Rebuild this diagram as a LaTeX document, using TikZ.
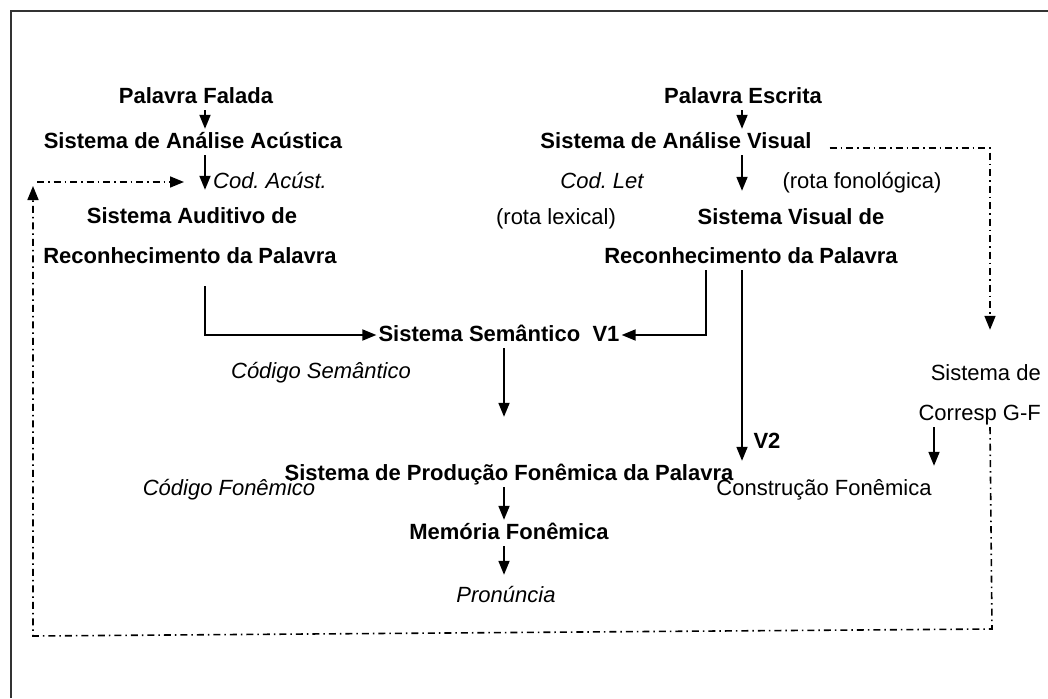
\documentclass[tikz,border=0pt]{standalone}
\usepackage{fontspec}
\setmainfont{Liberation Sans}
\usetikzlibrary{arrows.meta}
\frenchspacing

\begin{document}
\begin{tikzpicture}[x=1pt,y=-1pt,
    txt/.style={anchor=base,inner xsep=2pt,inner ysep=3pt,text height=16pt,text depth=4pt,
        font=\fontsize{22}{26}\selectfont},
    bold/.style={txt,font=\fontsize{22}{26}\selectfont\bfseries},
    ital/.style={txt,font=\fontsize{22}{26}\selectfont\itshape},
    arr/.style={line width=1.8pt,-{Triangle[length=14pt,width=11pt]}},
    dashdot/.style={line width=1.6pt,dash pattern=on 7pt off 4pt on 1.5pt off 4pt}]
    \useasboundingbox (0,0) rectangle (1048,698);
    \draw[line width=2pt,black!80] (11,698) -- (11,11) -- (1048,11);

    % columns of the arrows
    \coordinate (cl) at (205,0);
    \coordinate (cr) at (742,0);
    \coordinate (cv) at (706,0);
    \coordinate (cm) at (504,0);
    \coordinate (cg) at (934,0);
    \coordinate (cd) at (990,0);

    \node[bold] (falada) at (196,103) {Palavra Falada};
    \node[bold] (escrita) at (743,103) {Palavra Escrita};
    \node[bold] (acustica) at (193,148) {Sistema de Análise Acústica};
    \node[bold] (avisual) at (676,148) {Sistema de Análise Visual};
    \node[ital] (codac) at (270,188) {Cod. Acúst.};
    \node[ital] (codlet) at (602,188) {Cod. Let};
    \node[txt] (rfono) at (862,188) {(rota fonológica)};
    \node[bold] (auditivo) at (192,223) {Sistema Auditivo de};
    \node[bold] (auditivob) at (190,263) {Reconhecimento da Palavra};
    \node[txt] (rlex) at (556,224) {(rota lexical)};
    \node[bold] (svisual) at (791,224) {Sistema Visual de};
    \node[bold] (svisualb) at (751,263) {Reconhecimento da Palavra};
    \node[bold] (semantico) at (499,341) {Sistema Semântico\ \ V1};
    \node[ital] (codsem) at (321,378) {Código Semântico};
    \node[txt,anchor=base east] (gf) at (1043,380) {Sistema de};
    \node[txt,anchor=base east] (gfb) at (1043,420) {Corresp G-F};
    \node[bold] (v2) at (767,448) {V2};
    \node[bold] (producao) at (509,480) {Sistema de Produção Fonêmica da Palavra};
    \node[ital] (codfon) at (229,495) {Código Fonêmico};
    \node[txt] (construcao) at (824,495) {Construção Fonêmica};
    \node[bold] (memoria) at (509,539) {Memória Fonêmica};
    \node[ital] (pronuncia) at (506,602) {Pronúncia};

    \draw[arr] (falada.south -| cl) -- (acustica.north -| cl);
    \draw[arr,shorten >=14pt] (acustica.south -| cl) -- (auditivo.north -| cl);
    \draw[arr] (escrita.south -| cr) -- (avisual.north -| cr);
    \draw[arr,shorten >=14pt] (avisual.south -| cr) -- (svisual.north -| cr);
    \draw[arr,shorten <=16pt] (auditivob.south -| cl) |- (semantico.west);
    \draw[arr] (svisualb.south -| cv) |- (semantico.east);
    \draw[arr] (svisualb.south -| cr) -- (producao.north -| cr);
    \draw[arr,shorten >=44pt] (semantico.south -| cm) -- (producao.north -| cm);
    \draw[arr] (producao.south -| cm) -- (memoria.north -| cm);
    \draw[arr,shorten >=8pt] (memoria.south -| cm) -- (pronuncia.north -| cm);
    \draw[arr,shorten >=10pt] (gfb.south -| cg) -- (construcao.north -| cg);

    % dash-dot loop of the phonological route
    \coordinate (br) at (992,629);
    \coordinate (bl) at (33,636);
    \coordinate (tl) at (33,186);
    \coordinate (hl) at (37,182);
    \coordinate (hr) at (184,182);
    \draw[dashdot,arr,line width=1.6pt,shorten >=31pt] ([shift={(16pt,-6pt)}]avisual.east) -| (gf.north -| cd);
    \draw[dashdot,arr,line width=1.6pt] (gfb.south -| cd) -- (br) -- (bl) -- (tl);
    \draw[dashdot,arr,line width=1.6pt] (hl) -- (hr);
\end{tikzpicture}
\end{document}
